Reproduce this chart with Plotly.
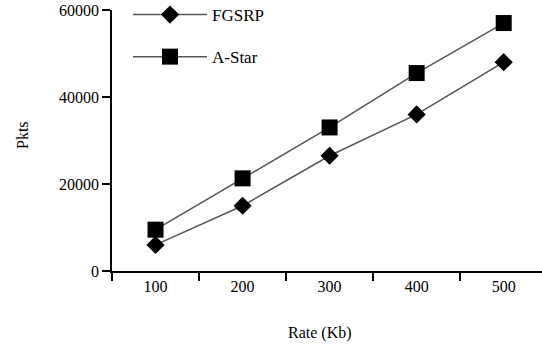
import plotly.graph_objects as go

rates = ["100", "200", "300", "400", "500"]
fgsrp = [6000, 15000, 26500, 36000, 48000]
astar = [9500, 21300, 33000, 45500, 57000]
y_ticks = [0, 20000, 40000, 60000]

FONT = "Liberation Serif"

W, H = 542, 345
L, T, R, B = 112, 10, 0, 74
PW, PH = W - L - R, H - T - B

fig = go.Figure()
fig.add_trace(go.Scatter(
    x=rates, y=fgsrp, name="FGSRP", mode="lines+markers", legendgroup="a",
    line=dict(color="#555555", width=1.5),
    marker=dict(symbol="diamond", size=14, color="black"),
))
fig.add_trace(go.Scatter(
    x=rates, y=astar, name="A-Star", mode="lines+markers", legendgroup="b",
    line=dict(color="#555555", width=1.5),
    marker=dict(symbol="square", size=16, color="black"),
))

fig.update_layout(
    width=W, height=H,
    margin=dict(l=L, r=R, t=T, b=B, autoexpand=False),
    paper_bgcolor="white", plot_bgcolor="white",
    font=dict(family=FONT, size=16, color="black"),
    showlegend=True,
    legend=dict(
        x=16 / PW, y=1 + 13 / PH, xanchor="left", yanchor="top",
        bgcolor="rgba(0,0,0,0)", traceorder="grouped", tracegroupgap=17,
        itemwidth=74, font=dict(family=FONT, size=17, color="black"),
    ),
    xaxis=dict(
        type="category", range=[-0.5, 4.44], tickson="boundaries",
        ticks="outside", ticklen=8, tickwidth=1.5, tickcolor="black",
        showline=True, linecolor="black", linewidth=1.5,
        showgrid=False, zeroline=False, fixedrange=True, automargin=False,
        tickfont=dict(family=FONT, size=16, color="black"),
    ),
    yaxis=dict(
        range=[0, 60000], tickvals=y_ticks, tickformat="d",
        ticks="outside", ticklen=8, tickwidth=1.5, tickcolor="black",
        showline=True, linecolor="black", linewidth=1.5,
        showgrid=False, zeroline=False, fixedrange=True, automargin=False,
        tickfont=dict(family=FONT, size=16, color="black"),
    ),
    annotations=[
        dict(text="Rate (Kb)", xref="paper", yref="paper",
             x=(320 - 112) / PW, y=-(333 - 271) / PH, showarrow=False,
             xanchor="center", yanchor="middle",
             font=dict(family=FONT, size=16, color="black")),
        dict(text="Pkts", xref="paper", yref="paper",
             x=-(112 - 22) / PW, y=(271 - 135) / PH, showarrow=False,
             textangle=-90, xanchor="center", yanchor="middle",
             font=dict(family=FONT, size=16, color="black")),
    ],
)

fig.write_html(
    "out.html",
    config={"displayModeBar": False},
    post_script="document.body.style.margin='0';document.body.style.overflow='hidden';",
)
